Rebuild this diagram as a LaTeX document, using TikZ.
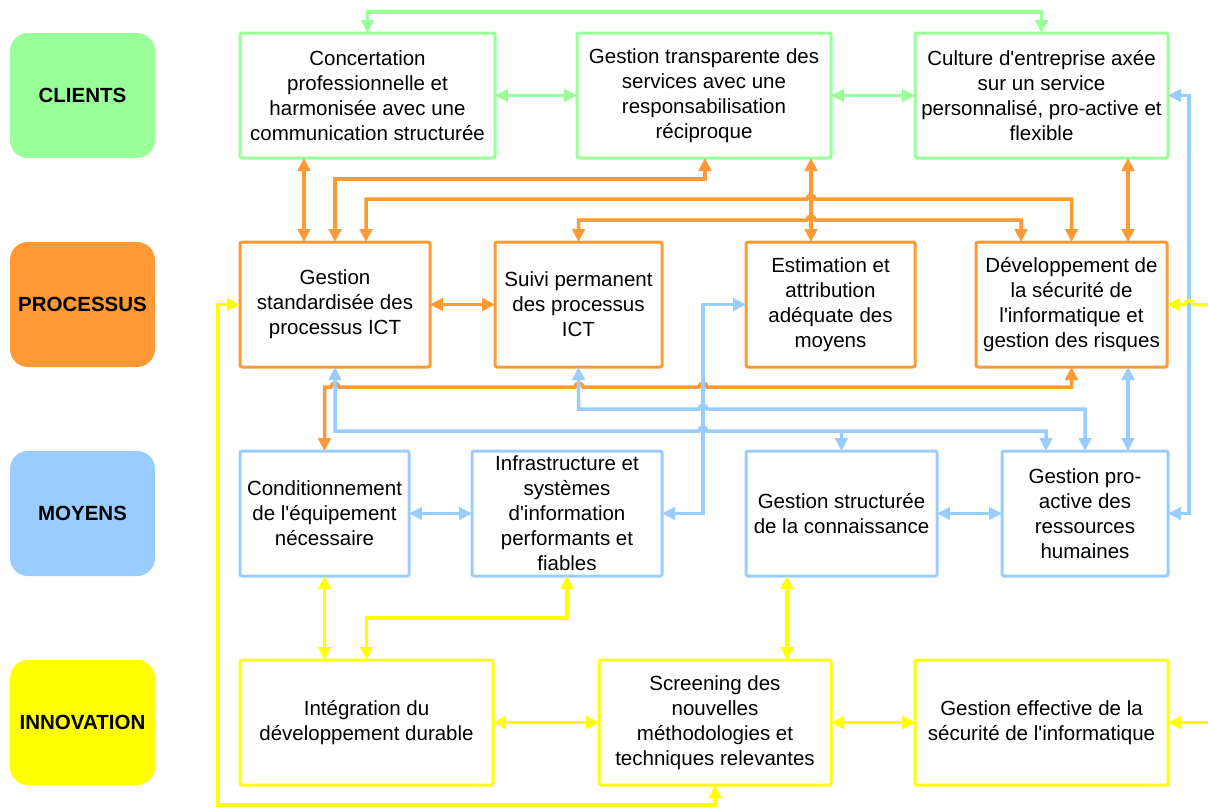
\documentclass[tikz,border=0pt]{standalone}
\usepackage{fontspec}
\setmainfont{Liberation Sans}
\usetikzlibrary{arrows.meta}
\definecolor{cgreen}{HTML}{99FF99}
\definecolor{corange}{HTML}{FF9933}
\definecolor{cblue}{HTML}{99CCFF}
\definecolor{cyellow}{HTML}{FFFF00}
\newcommand{\aq}{\textquotesingle{}}
\begin{document}
\begin{tikzpicture}[x=1pt,y=-1pt,
  >={Triangle[length=13pt,width=12.5pt]},
  box/.style={draw, line width=3pt, fill=white, rounded corners=2pt,
    minimum height=125pt, outer sep=0pt, inner sep=0pt, align=center,
    font=\fontsize{20.5}{25}\selectfont},
  cat/.style={rounded corners=18pt, minimum width=145pt, minimum height=125pt,
    outer sep=0pt, font=\bfseries\fontsize{20.5}{25}\selectfont},
  conn/.style={line width=3.5pt},
  gc/.style={conn, draw=cgreen},
  oc/.style={conn, draw=corange},
  bc/.style={conn, draw=cblue},
  yc/.style={conn, draw=cyellow}]
\useasboundingbox (0,0) rectangle (1208,809);

% row labels
\node[cat, fill=cgreen]  (lc) at (82.5,95.5)  {CLIENTS};
\node[cat, fill=corange] (lp) at (82.5,304.5) {PROCESSUS};
\node[cat, fill=cblue]   (lm) at (82.5,513.5) {MOYENS};
\node[cat, fill=cyellow] (li) at (82.5,722.5) {INNOVATION};

% clients
\node[box, draw=cgreen, minimum width=255pt] (a1) at (367.5,95.5)
  {Concertation\\professionnelle et\\harmonisée avec une\\communication structurée};
\node[box, draw=cgreen, minimum width=254pt] (a2) at (704,95.5)
  {Gestion transparente des\\services avec une\\responsabilisation\\réciproque};
\node[box, draw=cgreen, minimum width=253pt] (a3) at (1041.5,95.5)
  {Culture d\aq entreprise axée\\sur un service\\personnalisé, pro-active et\\flexible};

% processus
\node[box, draw=corange, minimum width=190pt] (b1) at (335,304.5)
  {Gestion\\standardisée des\\processus ICT};
\node[box, draw=corange, minimum width=167pt] (b2) at (578.5,304.5)
  {Suivi permanent\\des processus\\ICT};
\node[box, draw=corange, minimum width=169pt] (b3) at (830.5,304.5)
  {Estimation et\\attribution\\adéquate des\\moyens};
\node[box, draw=corange, minimum width=191pt] (b4) at (1071.5,304.5)
  {Développement de\\la sécurité de\\l\aq informatique et\\gestion des risques};

% moyens
\node[box, draw=cblue, minimum width=169pt] (d1) at (324.5,513.5)
  {Conditionnement\\de l\aq équipement\\nécessaire};
\node[box, draw=cblue, minimum width=190pt] (d2) at (567,513.5)
  {Infrastructure et\\systèmes\\d\aq information\\performants et\\fiables};
\node[box, draw=cblue, minimum width=191pt] (d3) at (841.5,513.5)
  {Gestion structurée\\de la connaissance};
\node[box, draw=cblue, minimum width=166pt] (d4) at (1085,513.5)
  {Gestion pro-\\active des\\ressources\\humaines};

% innovation
\node[box, draw=cyellow, minimum width=253pt] (c1) at (366.5,722.5)
  {Intégration du\\développement durable};
\node[box, draw=cyellow, minimum width=232pt] (c2) at (715,722.5)
  {Screening des\\nouvelles\\méthodologies et\\techniques relevantes};
\node[box, draw=cyellow, minimum width=253pt] (c3) at (1041.5,722.5)
  {Gestion effective de la\\sécurité de l\aq informatique};

% connector columns
\coordinate (k304)  at (304,0);
\coordinate (k366)  at (366,0);
\coordinate (k705)  at (705,0);
\coordinate (k787)  at (787,0);
\coordinate (k811)  at (811,0);
\coordinate (k1021) at (1021,0);
\coordinate (k1046) at (1046,0);
\coordinate (k1128) at (1128,0);
\coordinate (eB4) at (1208,304.5);
\coordinate (eC3) at (1208,722.5);
\coordinate (jD3) at (841.5,431);

% clients links
\draw[gc,<->] (a1.north) -- ++(0,-21) -| (a3.north);
\draw[gc,<->] (a1.east) -- (a2.west);
\draw[gc,<->] (a2.east) -- (a3.west);

% processus links
\draw[oc,<->] (a1.south -| k304) -- (b1.north -| k304);
\draw[oc,<->] (a2.south -| k705) |- (335,179) -- (b1.north);
\draw[oc,<->] (a2.south -| k811) -- (b3.north -| k811);
\draw[oc,<->] (b1.north -| k366) |- (807,199)
  arc[start angle=180,end angle=0,radius=4pt] -| (b4.north);
\draw[oc,<->] (b2.north) |- (807,220)
  arc[start angle=180,end angle=0,radius=4pt] -| (b4.north -| k1021);
\draw[oc,<->] (a3.south -| k1128) -- (b4.north -| k1128);
\draw[oc,<->] (b1.east) -- (b2.west);
\draw[oc,<->] (b4.south) |- (707,387)
  arc[start angle=0,end angle=180,radius=4pt] -- (583,387)
  arc[start angle=0,end angle=180,radius=4pt] -- (339,387)
  arc[start angle=0,end angle=180,radius=4pt] -| (d1.north);

% moyens links
\draw[bc,<->] (d1.east) -- (d2.west);
\draw[bc,<->] (d3.east) -- (d4.west);
\draw[bc,<->] (d2.east) -- (703,513.5) |- (b3.west);
\draw[bc,<->] (b1.south) |- (699,431)
  arc[start angle=180,end angle=0,radius=4pt] -| (d4.north -| k1046);
\draw[bc,->] (jD3) -- (d3.north);
\draw[bc,<->] (b2.south) |- (699,409)
  arc[start angle=180,end angle=0,radius=4pt] -| (d4.north);
\draw[bc,<->] (b4.south -| k1128) -- (d4.north -| k1128);
\draw[bc,<->] (a3.east) -- (1189,95.5) |- (d4.east);

% innovation links
\draw[yc,<->] (d1.south) -- (c1.north -| d1.south);
\draw[yc,<->] (d2.south) |- (366.5,618) -- (c1.north);
\draw[yc,<->] (d3.south -| k787) -- (c2.north -| k787);
\draw[yc,<->] (c1.east) -- (c2.west);
\draw[yc,<->] (c2.east) -- (c3.west);
\draw[yc,<->] (b1.west) -- (218,304.5) |- (715,805) -- (c2.south);
\draw[yc,->] (eB4) -- (1193,304.5)
  arc[start angle=0,end angle=180,radius=4pt] -- (b4.east);
\draw[yc,->] (eC3) -- (c3.east);
\end{tikzpicture}
\end{document}
